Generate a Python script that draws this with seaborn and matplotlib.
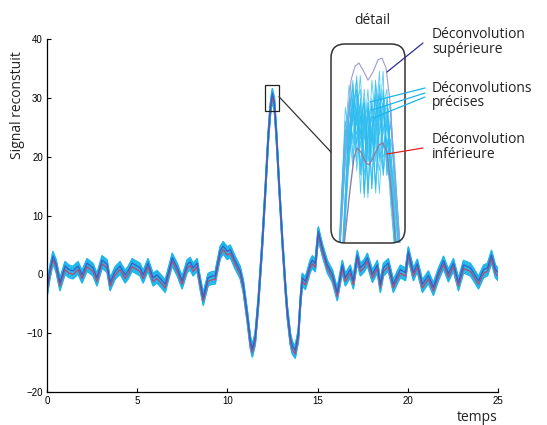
import numpy as np
import pandas as pd
import matplotlib
matplotlib.use('Agg')
import matplotlib.pyplot as plt
import matplotlib.transforms as mtransforms
from matplotlib.patches import FancyBboxPatch, Rectangle, ConnectionPatch
from matplotlib.lines import Line2D
import seaborn as sns

# Reconstructed signal (centre of the ensemble)
temps = [0.00, 0.17, 0.33, 0.50, 0.72, 1.00, 1.22, 1.44, 1.72, 1.94, 2.22, 2.55,
         2.77, 3.05, 3.33, 3.50, 3.77, 4.05, 4.33, 4.50, 4.72, 4.94, 5.16,
         5.33, 5.60, 5.88, 6.10, 6.33, 6.55, 6.77, 6.94, 7.22, 7.49,
         7.77, 7.94, 8.10, 8.32, 8.49, 8.66, 8.93, 9.16, 9.32, 9.60,
         9.77, 9.99, 10.16, 10.43, 10.71, 10.88, 11.10, 11.27, 11.38, 11.54,
         11.71, 11.93, 12.10, 12.26, 12.38, 12.49, 12.60, 12.71, 12.87, 13.04,
         13.21, 13.32, 13.49, 13.60, 13.76, 13.93, 14.04, 14.15, 14.32, 14.43,
         14.59, 14.71, 14.87, 15.04, 15.26, 15.54, 15.82, 16.09, 16.37, 16.54,
         16.81, 16.98, 17.20, 17.37, 17.59, 17.76, 18.04, 18.31, 18.48, 18.65,
         18.92, 19.20, 19.42, 19.59, 19.87, 20.03, 20.31, 20.53, 20.81, 21.14,
         21.42, 21.70, 21.98, 22.25, 22.53, 22.81, 23.09, 23.47, 23.64, 23.92,
         24.20, 24.42, 24.64, 24.86, 25.00]
signal = [-2.8, 0.5, 2.8, 1.5, -1.7, 1.1, 0.5, 0.3, 1.1, -0.4,
          1.6, 0.8, -0.9, 2.1, 1.4, -1.7, 0.2, 1.1, -0.4, 0.3,
          1.6, 1.2, 0.8, -0.4, 1.6, -0.9, -0.4, -1.2, -2.0, 0.5,
          2.5, 0.8, -1.4, 1.4, 1.8, 0.8, 1.6, -1.5, -4.2, -0.9,
          -0.6, -0.6, 3.7, 4.5, 3.6, 3.9, 2.0, 0.3, -2.0, -7.1,
          -11.5, -13.0, -11.0, -5.0, 5.0, 14.0, 23.0, 28.0, 30.5, 29.0,
          24.0, 15.0, 6.0, -2.0, -6.4, -11.0, -12.5, -13.2, -10.5, -5.0,
          -0.9, -1.5, -0.4, 1.4, 2.1, 1.5, 7.0, 4.2, 1.3, -0.3,
          -3.4, 1.3, -0.9, 0.5, -1.4, 3.0, 0.8, 1.5, 2.5, -0.3,
          1.3, -2.0, 0.8, 1.6, -2.0, -0.5, 0.5, 0.0, 3.6, 0.0,
          1.5, -2.0, -0.5, -2.5, 0.0, 2.0, -0.2, 1.6, -1.7, 1.3,
          0.8, 0.0, -1.4, 0.5, 0.8, 3.0, 0.5, 0.0]

# zoom window shown in the detail box
zoom_t = (12.08, 12.86)
zoom_v = (27.8, 32.2)

# detail: upper and lower deconvolutions
sup_t = [12.17, 12.238, 12.291, 12.333, 12.375, 12.428, 12.47, 12.523, 12.575, 12.618, 12.66, 12.70, 12.755, 12.81]
sup_v = [27.6, 29.86, 31.40, 31.71, 31.78, 31.58, 31.40, 31.58, 31.85, 31.89, 31.67, 30.96, 29.19, 27.6]
inf_t = [12.21, 12.28, 12.322, 12.354, 12.396, 12.449, 12.48, 12.523, 12.586, 12.628, 12.67, 12.712, 12.77]
inf_v = [27.6, 28.97, 29.68, 29.90, 29.81, 29.57, 29.53, 29.68, 29.97, 30.01, 29.81, 29.08, 27.6]

# detail: precise deconvolutions
prec_t = [12.17, 12.21, 12.25, 12.29, 12.33, 12.37, 12.41, 12.45, 12.49,
          12.53, 12.57, 12.61, 12.65, 12.69, 12.73, 12.77, 12.81]
prec_1 = [27.0, 28.6, 30.2, 31.3, 30.4, 31.5, 30.1, 31.2, 29.8, 31.4, 30.5, 31.6, 29.3, 30.8, 29.4, 28.0, 27.0]
prec_2 = [26.8, 28.2, 29.6, 30.6, 31.4, 29.9, 31.0, 29.6, 30.9, 30.0, 31.3, 30.2, 31.0, 29.8, 28.9, 27.6, 26.8]
prec_3 = [27.2, 28.9, 30.5, 29.8, 30.9, 31.2, 29.5, 30.6, 30.8, 29.0, 30.7, 31.1, 29.9, 30.4, 29.7, 28.3, 27.1]
prec_4 = [27.0, 28.4, 29.9, 31.0, 29.6, 30.5, 30.9, 28.8, 30.3, 30.6, 29.6, 30.8, 31.2, 29.5, 29.0, 27.9, 26.9]
prec_5 = [26.9, 28.7, 30.8, 30.1, 31.1, 29.4, 30.3, 30.7, 29.0, 31.0, 29.9, 29.4, 30.6, 30.9, 28.8, 28.1, 27.0]
prec_6 = [27.1, 28.5, 30.0, 30.9, 30.0, 30.8, 28.9, 30.9, 29.6, 30.2, 31.1, 29.7, 29.9, 30.5, 29.2, 27.8, 26.9]
prec_7 = [27.0, 28.8, 30.3, 29.5, 30.7, 30.2, 30.6, 28.9, 30.4, 29.1, 30.4, 30.9, 29.3, 30.1, 29.5, 28.4, 27.1]
prec_8 = [26.9, 28.3, 29.7, 30.7, 31.2, 30.6, 29.3, 30.1, 30.6, 30.5, 28.9, 30.3, 30.7, 29.9, 28.6, 27.7, 26.8]
precises = [prec_1, prec_2, prec_3, prec_4, prec_5, prec_6, prec_7, prec_8]

sns.set_style('white')
plt.rcParams['font.family'] = ['Liberation Sans', 'DejaVu Sans']
TXT = 'Open Sans'

W, H = 547, 425
fig = plt.figure(figsize=(W / 100, H / 100), dpi=100)
ax = fig.add_axes([47 / W, 1 - 392 / H, 451 / W, 353 / H])

df = pd.DataFrame({'temps': temps, 'signal': signal})

def shifted(a, dx=0, dy=0):
    return mtransforms.offset_copy(a.transData, fig=fig, x=dx, y=dy, units='points')

# ensemble of precise deconvolutions (cyan band)
for off in np.arange(-4.5, 4.6, 1.0):
    sns.lineplot(data=df, x='temps', y='signal', ax=ax, color='#1cb6ec',
                 lw=1.1, legend=False, estimator=None)
    ax.lines[-1].set_transform(shifted(ax, dy=off))

sns.lineplot(data=df, x='temps', y='signal', ax=ax, color='#c4456a', lw=0.9,
             legend=False, estimator=None)
ax.lines[-1].set_transform(shifted(ax, dy=-1.3))
sns.lineplot(data=df, x='temps', y='signal', ax=ax, color='#3a5cc4', lw=0.9,
             legend=False, estimator=None)
ax.lines[-1].set_transform(shifted(ax, dy=1.3))

ax.set_xlim(0, 25)
ax.set_ylim(-20, 40)
ax.set_xticks(range(0, 26, 5))
ax.set_yticks(range(-20, 41, 10))
ax.tick_params(direction='in', length=3, width=0.8, labelsize=7, pad=3,
               bottom=True, left=True, colors='black')
for side in ['top', 'right']:
    ax.spines[side].set_visible(False)
for side in ['left', 'bottom']:
    ax.spines[side].set_color('black')
    ax.spines[side].set_linewidth(0.9)
ax.set_xlabel('')
ax.set_ylabel('')

# zoom rectangle
ax.add_patch(Rectangle((zoom_t[0], zoom_v[0]), zoom_t[1] - zoom_t[0], zoom_v[1] - zoom_v[0],
                       fill=False, ec='#222222', lw=0.9, zorder=5))

# detail inset
axins = fig.add_axes([331 / W, 1 - 243 / H, 74 / W, 199 / H])
axins.set_facecolor('none')
for dx in (-1.3, 1.3):
    for vals in precises:
        sns.lineplot(x=prec_t, y=vals, ax=axins, color='#2bbcf0', lw=0.6,
                     alpha=0.8, legend=False, estimator=None)
        axins.lines[-1].set_transform(shifted(axins, dx=dx))
sns.lineplot(x=inf_t, y=inf_v, ax=axins, color='#8c7fa4', lw=1.0, legend=False, estimator=None)
sns.lineplot(x=sup_t, y=sup_v, ax=axins, color='#9c9ad2', lw=0.8, legend=False, estimator=None)
axins.set_xlim(zoom_t)
axins.set_ylim(zoom_v)
axins.axis('off')

box = FancyBboxPatch((331 / 100, (H - 243) / 100), 74 / 100, 199 / 100,
                     boxstyle='round,pad=0,rounding_size=0.14',
                     transform=fig.dpi_scale_trans, fill=False, ec='#333333', lw=1.1)
fig.add_artist(box)

con = ConnectionPatch(xyA=(zoom_t[1], 30.2), coordsA=ax.transData,
                      xyB=(0, 0.457), coordsB=axins.transAxes, color='#333333', lw=0.9)
fig.add_artist(con)

def fpt(px, py):
    return px / W, 1 - py / H

def pointer(p0, p1, color):
    (x0, y0), (x1, y1) = fpt(*p0), fpt(*p1)
    fig.add_artist(Line2D([x0, x1], [y0, y1], transform=fig.transFigure, color=color, lw=0.9))

pointer((387, 72), (423, 43), '#2b2f8f')
pointer((370, 102), (425, 88), '#19b4ec')
pointer((372, 110), (425, 93), '#19b4ec')
pointer((373, 118), (425, 97), '#19b4ec')
pointer((387, 154), (423, 148), '#e02424')

def label(px, py, s, **kw):
    fig.text(*fpt(px, py), s, family=TXT, fontsize=10, color='#222222', va='baseline', **kw)

label(432, 38, 'Déconvolution')
label(432, 53, 'supérieure')
label(432, 92, 'Déconvolutions')
label(432, 106, 'précises')
label(432, 143, 'Déconvolution')
label(432, 158, 'inférieure')
label(372, 24, 'détail', ha='center')
label(498, 421, 'temps', ha='right')
fig.text(*fpt(18, 105), 'Signal reconstuit', family=TXT, fontsize=10, color='#222222',
         rotation=90, ha='center', va='center')

fig.savefig('out.png', dpi=100)
